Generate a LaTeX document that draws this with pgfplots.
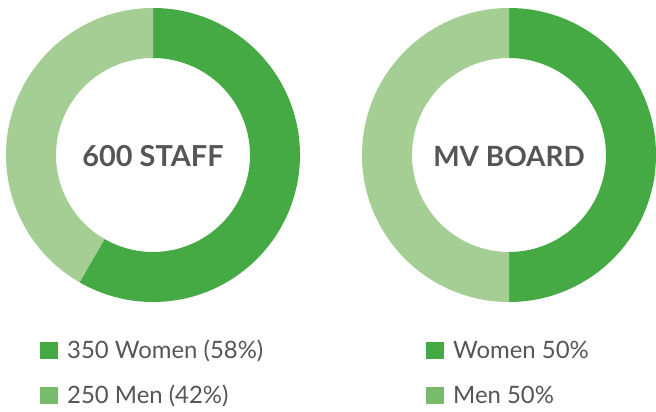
\documentclass[border=0pt]{standalone}
\usepackage{pgfplots}
\pgfplotsset{compat=1.18}
\usepackage{pgfplotstable}
\usepackage{fontspec}
\setmainfont{Lato}
\definecolor{darkg}{RGB}{69,170,67}
\definecolor{lightg}{RGB}{165,206,149}
\definecolor{legg}{RGB}{120,187,106}
\definecolor{txt}{RGB}{85,85,87}
\pgfplotstableread{
group value
Women 350
Men 250
}\staff
\pgfplotstableread{
group value
Women 50
Men 50
}\board
\begin{document}
\begin{tikzpicture}
\begin{axis}[
  scale only axis, width=656bp, height=412bp,
  xmin=0, xmax=656, ymin=0, ymax=412,
  hide axis, clip=false,
]
% staff donut
\pgfplotstablegetelem{0}{value}\of\staff \let\sa\pgfplotsretval
\pgfplotstablegetelem{1}{value}\of\staff \let\sb\pgfplotsretval
\pgfmathsetmacro\angS{360*(\sa/(\sa+\sb))}
\fill[darkg] (axis cs:153,257) ++(90:147bp) arc[start angle=90, end angle=90-\angS, radius=147bp] -- ++(90-\angS:-50bp) arc[start angle=90-\angS, end angle=90, radius=97bp] -- cycle;
\fill[lightg] (axis cs:153,257) ++(90-\angS:147bp) arc[start angle=90-\angS, end angle=-270, radius=147bp] -- ++(-270:-50bp) arc[start angle=-270, end angle=90-\angS, radius=97bp] -- cycle;
% board donut
\pgfplotstablegetelem{0}{value}\of\board \let\ba\pgfplotsretval
\pgfplotstablegetelem{1}{value}\of\board \let\bb\pgfplotsretval
\pgfmathsetmacro\angB{360*(\ba/(\ba+\bb))}
\fill[darkg] (axis cs:509,257) ++(90:147bp) arc[start angle=90, end angle=90-\angB, radius=147bp] -- ++(90-\angB:-50bp) arc[start angle=90-\angB, end angle=90, radius=97bp] -- cycle;
\fill[lightg] (axis cs:509,257) ++(90-\angB:147bp) arc[start angle=90-\angB, end angle=-270, radius=147bp] -- ++(-270:-50bp) arc[start angle=-270, end angle=90-\angB, radius=97bp] -- cycle;
% center labels
\node[anchor=base, text=txt, font=\fontsize{29}{30}\selectfont\bfseries, inner sep=0pt] at (axis cs:153,245.3) {600 STAFF};
\node[anchor=base, text=txt, font=\fontsize{28}{30}\selectfont\bfseries, inner sep=0pt] at (axis cs:509,245.3) {MV BOARD};
% legends
\fill[darkg] (axis cs:40,52.7) rectangle (axis cs:57.7,70.3);
\fill[legg] (axis cs:40,7.7) rectangle (axis cs:57.7,25.3);
\node[anchor=base west, text=txt, font=\fontsize{24}{26}\selectfont, inner sep=0pt] at (axis cs:67,53) {350 Women (58\%)};
\node[anchor=base west, text=txt, font=\fontsize{24}{26}\selectfont, inner sep=0pt] at (axis cs:67,8) {250 Men (42\%)};
\fill[darkg] (axis cs:426,52.7) rectangle (axis cs:443.7,70.3);
\fill[legg] (axis cs:426,7.7) rectangle (axis cs:443.7,25.3);
\node[anchor=base west, text=txt, font=\fontsize{24}{26}\selectfont, inner sep=0pt] at (axis cs:453,53) {Women 50\%};
\node[anchor=base west, text=txt, font=\fontsize{24}{26}\selectfont, inner sep=0pt] at (axis cs:453,8) {Men 50\%};
\end{axis}
\pgfresetboundingbox
\useasboundingbox (current axis.south west) rectangle (current axis.north east);
\end{tikzpicture}
\end{document}
